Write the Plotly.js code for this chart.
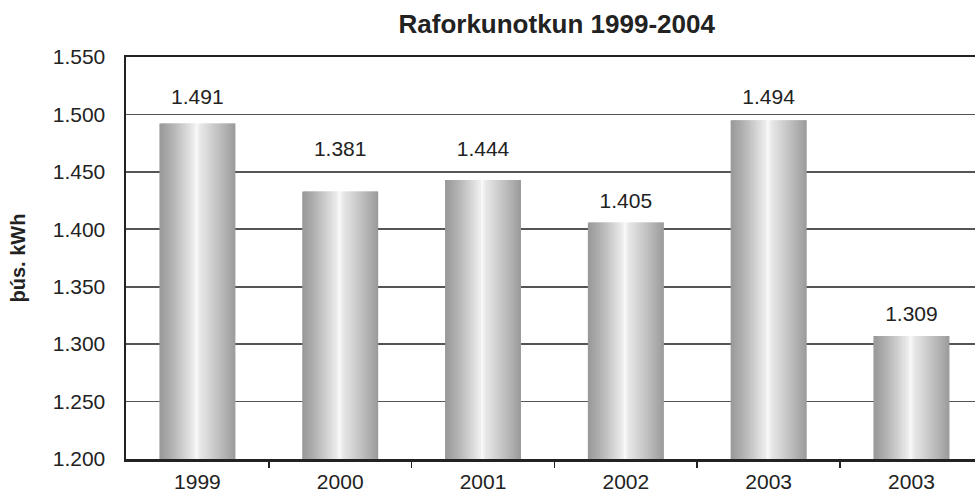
<!DOCTYPE html>
<html>
<head>
<meta charset="utf-8">
<script src="https://cdn.plot.ly/plotly-3.0.1.min.js"></script>
<style>html,body{margin:0;padding:0;background:#fff;}#chart{width:975px;height:494px;}</style>
</head>
<body>
<div id="chart"></div>
<script>
// Data
const years = ["1999", "2000", "2001", "2002", "2003", "2003"];
const barValues = [1492, 1433, 1443, 1406, 1495, 1307];      // bar heights (þús. kWh)
const labelValues = [1491, 1381, 1444, 1405, 1494, 1309];    // printed data labels
const labelY = [1514, 1468, 1468, 1423, 1514, 1325];         // where the labels sit on the y scale

const xPos = years.map((_, i) => i);

// cylinder-like horizontal shading of each bar
const gradStops = [
  [0.00, 152], [0.15, 175], [0.32, 208], [0.46, 238], [0.50, 254],
  [0.52, 234], [0.66, 212], [0.84, 182], [1.00, 154]
];
function shade(t) {
  for (let k = 0; k < gradStops.length - 1; k++) {
    const a = gradStops[k], b = gradStops[k + 1];
    if (t >= a[0] && t <= b[0]) {
      const f = (t - a[0]) / (b[0] - a[0]);
      const v = Math.round(a[1] + f * (b[1] - a[1]));
      return `rgb(${v},${v},${v})`;
    }
  }
  return 'rgb(152,152,152)';
}

const barWidth = 0.532;
const slices = 38;
const traces = [];
for (let s = 0; s < slices; s++) {
  const t = (s + 0.5) / slices;
  const w = (s === slices - 1) ? barWidth / slices : barWidth / slices * 1.8;
  traces.push({
    type: 'bar',
    x: xPos,
    y: barValues,
    width: w,
    offset: -barWidth / 2 + s * barWidth / slices,
    marker: { color: shade(t), line: { width: 0 } },
    hoverinfo: 'skip',
    showlegend: false
  });
}
traces.push({
  type: 'scatter',
  mode: 'text',
  x: xPos,
  y: labelY,
  text: labelValues,
  texttemplate: '%{text:,d}',
  textfont: { family: 'Liberation Sans, Arial, sans-serif', size: 21, color: '#222' },
  textposition: 'middle center',
  hoverinfo: 'skip',
  showlegend: false,
  cliponaxis: false
});

const layout = {
  width: 975,
  height: 494,
  margin: { l: 126, r: 0, t: 57, b: 35 },
  paper_bgcolor: '#ffffff',
  plot_bgcolor: '#ffffff',
  separators: ',.',
  barmode: 'overlay',
  font: { family: 'Liberation Sans, Arial, sans-serif', size: 21, color: '#222' },
  title: {
    text: '<b>Raforkunotkun 1999-2004</b>',
    font: { family: 'Liberation Sans, Arial, sans-serif', size: 26, color: '#222' },
    x: 0.571, xanchor: 'center', y: 0.952, yanchor: 'middle'
  },
  xaxis: {
    range: [-0.5, 5.445],
    tickmode: 'array',
    tickvals: xPos,
    ticktext: years,
    ticks: '',
    showgrid: false,
    zeroline: false,
    showline: true,
    linecolor: '#222',
    linewidth: 2.5,
    mirror: true,
    ticklabelstandoff: 2,
    tickfont: { size: 21, color: '#222' },
    minor: { tickmode: 'array', tickvals: [0.5, 1.5, 2.5, 3.5, 4.5], ticks: 'outside', ticklen: 6, tickwidth: 1.5, tickcolor: '#222', showgrid: false }
  },
  yaxis: {
    range: [1200, 1550],
    tick0: 1200,
    dtick: 50,
    tickformat: ',d',
    ticks: '',
    showgrid: true,
    gridcolor: '#555',
    gridwidth: 1.6,
    zeroline: false,
    showline: true,
    linecolor: '#222',
    linewidth: 2.5,
    ticklabelstandoff: 14,
    tickfont: { size: 21, color: '#222' },
    title: {
      text: '<b>þús. kWh</b>',
      font: { family: 'Liberation Sans, Arial, sans-serif', size: 20, color: '#222' },
      standoff: 22
    }
  }
};

Plotly.newPlot('chart', traces, layout, { displayModeBar: false, staticPlot: true });
</script>
</body>
</html>
